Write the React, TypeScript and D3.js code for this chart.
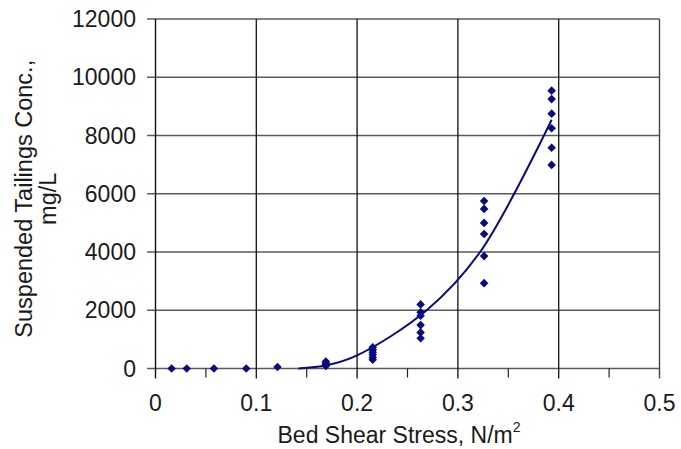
import React from "react";
import * as d3 from "d3";

// Bed shear stress (N/m2) at each sampling run
const stressA = [0.016, 0.031, 0.058, 0.09, 0.121];
const concA = [0, 0, 0, 0, 50];
const stressB = 0.169;
const concB = [90, 140, 190, 240];
const stressC = 0.2155;
const concC = [300, 380, 470, 560, 640, 730];
const stressD = 0.263;
const concD = [1040, 1240, 1490, 1810, 1930, 2200];
const stressE = 0.326;
const concE = [2930, 3860, 4620, 5000, 5480, 5750];
const stressF = 0.393;
const concF = [6990, 7580, 8250, 8750, 9250, 9540];

// Fitted trend line (stress, concentration)
const trendX = [0.1417, 0.17, 0.2, 0.269, 0.322, 0.393];
const trendY = [0, 110, 450, 2000, 4000, 8540];

const xTicks = [0, 0.1, 0.2, 0.3, 0.4, 0.5];
const xMinor = [0.05, 0.15, 0.25, 0.35, 0.45];
const yTicks = [0, 2000, 4000, 6000, 8000, 10000, 12000];

const W = 681;
const H = 449;
const left = 155.5;
const right = 659.5;
const top = 19;
const bottom = 368.5;
const font = "'Liberation Sans', Arial, sans-serif";
const navy = "#0a0a80";

export default function App() {
  const x = d3.scaleLinear().domain([0, 0.5]).range([left, right]);
  const y = d3.scaleLinear().domain([0, 12000]).range([bottom, top]);

  const points: [number, number][] = [
    ...stressA.map((s, i) => [s, concA[i]] as [number, number]),
    ...concB.map((c) => [stressB, c] as [number, number]),
    ...concC.map((c) => [stressC, c] as [number, number]),
    ...concD.map((c) => [stressD, c] as [number, number]),
    ...concE.map((c) => [stressE, c] as [number, number]),
    ...concF.map((c) => [stressF, c] as [number, number]),
  ];

  const trend = d3
    .line<number>()
    .x((d) => x(d))
    .y((_, i) => y(trendY[i]))
    .curve(d3.curveCatmullRom.alpha(0.5))(trendX) as string;

  const r = 4.3;
  const diamond = `M0,${-r}L${r},0L0,${r}L${-r},0Z`;

  return (
    <svg
      width={W}
      height={H}
      style={{ position: "fixed", left: 0, top: 0, background: "#fff" }}
    >
      {/* horizontal grid lines with left ticks */}
      {yTicks.map((t) => (
        <line
          key={"h" + t}
          x1={147}
          x2={right}
          y1={y(t)}
          y2={y(t)}
          stroke="#5a5a5a"
          strokeWidth={1.4}
        />
      ))}
      {/* vertical grid lines */}
      {xTicks.slice(1, -1).map((t) => (
        <line
          key={"v" + t}
          x1={x(t)}
          x2={x(t)}
          y1={top}
          y2={bottom + 10}
          stroke="#111"
          strokeWidth={1.3}
        />
      ))}
      {/* minor ticks */}
      {xMinor.map((t) => (
        <line
          key={"m" + t}
          x1={x(t)}
          x2={x(t)}
          y1={bottom}
          y2={bottom + 9}
          stroke="#222"
          strokeWidth={1.2}
        />
      ))}
      {/* right border */}
      <line x1={right} x2={right} y1={top} y2={bottom + 10} stroke="#444" strokeWidth={1.4} />
      {/* y axis */}
      <line x1={left} x2={left} y1={top} y2={bottom + 10} stroke="#111" strokeWidth={1.4} />

      {/* y tick labels */}
      {yTicks.map((t) => (
        <text
          key={"yl" + t}
          x={136}
          y={y(t)}
          dy="0.35em"
          textAnchor="end"
          fontFamily={font}
          fontSize={23}
          fill="#1a1a1a"
        >
          {t}
        </text>
      ))}
      {/* x tick labels */}
      {xTicks.map((t) => (
        <text
          key={"xl" + t}
          x={x(t)}
          y={411}
          textAnchor="middle"
          fontFamily={font}
          fontSize={23}
          fill="#1a1a1a"
        >
          {t}
        </text>
      ))}

      {/* trend line */}
      <path d={trend} fill="none" stroke={navy} strokeWidth={2} />

      {/* observations */}
      {points.map(([s, c], i) => (
        <path key={"p" + i} d={diamond} transform={`translate(${x(s)},${y(c)})`} fill={navy} />
      ))}

      {/* axis titles */}
      <text x={399} y={443} textAnchor="middle" fontFamily={font} fontSize={23} fill="#1a1a1a">
        Bed Shear Stress, N/m
        <tspan fontSize={14} dy={-11}>
          2
        </tspan>
      </text>
      <g transform={`translate(32,${(top + bottom) / 2 + 5}) rotate(-90)`}>
        <text x={0} y={0} textAnchor="middle" fontFamily={font} fontSize={23.5} fill="#1a1a1a">
          Suspended Tailings Conc.,
        </text>
        <text x={0} y={24} textAnchor="middle" fontFamily={font} fontSize={23.5} fill="#1a1a1a">
          mg/L
        </text>
      </g>
    </svg>
  );
}
